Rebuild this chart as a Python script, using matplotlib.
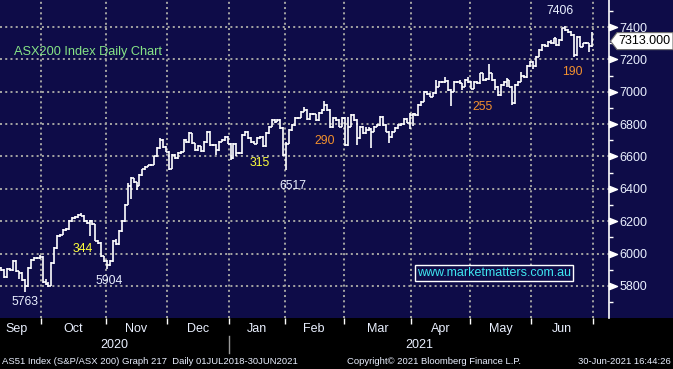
import numpy as np
import matplotlib
matplotlib.use("Agg")
import matplotlib.pyplot as plt
from matplotlib.collections import LineCollection
from matplotlib.patches import Rectangle, Polygon
from matplotlib.path import Path

plt.rcParams['font.family'] = ['Liberation Sans', 'DejaVu Sans']

# ---------------- data ----------------
months = ['Sep', 'Oct', 'Nov', 'Dec', 'Jan', 'Feb', 'Mar', 'Apr', 'May', 'Jun']
month_days = [14, 22, 21, 21, 19, 20, 23, 20, 21, 21]   # trading days shown per month
years = ['2020', '2021']
year_start_month = [0, 4]

opens = [
    # Sep
    5910, 5900, 5855, 5905, 5900, 5957, 5890, 5880, 5835, 5800, 5911, 5960, 5973, 5970,
    # Oct
    5980, 5825, 5815, 5800, 5940, 6033, 6110, 6117, 6147, 6150, 6199, 6220, 6225, 6240, 6235, 6200, 6190, 6200, 6180, 6080, 6067, 5983,
    # Nov
    5952, 5930, 5952, 6080, 6060, 6141, 6199, 6302, 6420, 6468, 6440, 6420, 6487, 6520, 6538, 6545, 6550, 6600, 6653, 6700, 6660,
    # Dec
    6630, 6525, 6610, 6590, 6620, 6630, 6700, 6690, 6744, 6682, 6641, 6662, 6631, 6690, 6754, 6672, 6672, 6640, 6692, 6703, 6723,
    # Jan
    6680, 6590, 6680, 6620, 6621, 6734, 6754, 6713, 6690, 6680, 6713, 6723, 6662, 6744, 6785, 6826, 6816, 6826, 6775,
    # Feb
    6610, 6680, 6764, 6795, 6837, 6840, 6877, 6890, 6830, 6865, 6860, 6826, 6867, 6888, 6920, 6888, 6780, 6837, 6826, 6785,
    # Mar
    6837, 6672, 6785, 6857, 6826, 6713, 6785, 6744, 6764, 6770, 6754, 6785, 6795, 6847, 6795, 6754, 6720, 6754, 6775, 6795, 6800, 6830, 6810,
    # Apr
    6857, 6860, 6857, 6919, 6939, 7001, 6985, 6970, 6991, 7032, 7062, 7060, 7065, 7011, 7001, 7062, 7060, 7052, 7032, 7073,
    # May
    7062, 7020, 7062, 7052, 7114, 7073, 7080, 7114, 7073, 7032, 6980, 7040, 7060, 7070, 7032, 6929, 7042, 7063, 7100, 7093, 7160,
    # Jun
    7186, 7160, 7217, 7258, 7289, 7284, 7309, 7300, 7330, 7289, 7320, 7392, 7380, 7370, 7350, 7228, 7340, 7279, 7300, 7299, 7280,
]
highs = [
    5915, 5905, 5910, 5912, 5962, 5960, 5895, 5885, 5840, 5915, 5965, 5980, 5978, 5992,
    5985, 5840, 5822, 5945, 6038, 6115, 6122, 6152, 6160, 6205, 6225, 6232, 6245, 6248, 6238, 6205, 6205, 6205, 6185, 6085, 6070, 5988,
    5958, 5958, 6085, 6088, 6146, 6205, 6308, 6437, 6472, 6470, 6445, 6492, 6525, 6542, 6550, 6555, 6605, 6658, 6715, 6705, 6665,
    6635, 6615, 6615, 6625, 6635, 6705, 6705, 6750, 6748, 6686, 6668, 6666, 6695, 6760, 6758, 6678, 6676, 6697, 6708, 6728, 6727,
    6685, 6685, 6685, 6626, 6740, 6760, 6758, 6718, 6695, 6718, 6728, 6728, 6750, 6790, 6832, 6830, 6830, 6830, 6780,
    6690, 6770, 6800, 6842, 6846, 6882, 6908, 6895, 6870, 6870, 6865, 6872, 6893, 6945, 6925, 6893, 6842, 6842, 6830, 6842,
    6842, 6847, 6862, 6862, 6831, 6790, 6790, 6785, 6785, 6775, 6790, 6800, 6852, 6852, 6800, 6760, 6760, 6780, 6800, 6805, 6836, 6836, 6870,
    6866, 6866, 6924, 6944, 7006, 7006, 6990, 6996, 7073, 7067, 7067, 7093, 7070, 7016, 7067, 7066, 7073, 7057, 7078, 7093,
    7067, 7067, 7067, 7119, 7119, 7086, 7172, 7119, 7078, 7037, 7045, 7065, 7083, 7075, 7037, 7047, 7068, 7124, 7105, 7165, 7191,
    7191, 7222, 7263, 7294, 7294, 7314, 7320, 7335, 7335, 7325, 7396, 7406, 7385, 7375, 7355, 7345, 7345, 7304, 7305, 7304, 7369,
]
lows = [
    5895, 5850, 5850, 5895, 5895, 5885, 5840, 5830, 5763, 5795, 5905, 5955, 5965, 5965,
    5820, 5805, 5796, 5798, 5935, 6028, 6105, 6112, 6140, 6145, 6195, 6215, 6220, 6230, 6195, 6185, 6110, 6175, 6075, 6060, 5978, 5945,
    5904, 5925, 5948, 6055, 6055, 6136, 6195, 6298, 6340, 6435, 6390, 6415, 6482, 6515, 6532, 6540, 6545, 6595, 6648, 6655, 6625,
    6518, 6520, 6585, 6585, 6615, 6625, 6685, 6685, 6677, 6636, 6636, 6626, 6626, 6685, 6667, 6666, 6610, 6635, 6688, 6698, 6675,
    6580, 6585, 6600, 6615, 6616, 6729, 6708, 6685, 6675, 6675, 6708, 6657, 6657, 6740, 6780, 6810, 6811, 6770, 6600,
    6517, 6675, 6760, 6790, 6832, 6835, 6872, 6825, 6825, 6855, 6820, 6820, 6862, 6883, 6883, 6775, 6775, 6820, 6780, 6780,
    6667, 6667, 6780, 6821, 6672, 6708, 6739, 6739, 6759, 6653, 6749, 6780, 6790, 6790, 6749, 6682, 6715, 6749, 6770, 6790, 6795, 6805, 6770,
    6790, 6852, 6852, 6914, 6934, 6980, 6965, 6965, 6986, 7027, 7055, 7055, 7006, 6909, 6996, 7055, 7047, 7011, 7027, 7057,
    7015, 7015, 7047, 7047, 7068, 7068, 7075, 7068, 7011, 6975, 6975, 7035, 7032, 7027, 6917, 6924, 7037, 7058, 7088, 7088, 7155,
    7140, 7155, 7212, 7253, 7279, 7279, 7295, 7295, 7284, 7284, 7315, 7375, 7365, 7345, 7216, 7223, 7274, 7274, 7294, 7248, 7275,
]
closes = [
    5900, 5855, 5905, 5900, 5957, 5890, 5880, 5835, 5800, 5911, 5960, 5973, 5970, 5980,
    5825, 5815, 5800, 5940, 6033, 6110, 6117, 6147, 6150, 6199, 6220, 6225, 6240, 6235, 6200, 6190, 6200, 6180, 6080, 6067, 5983, 5952,
    5930, 5952, 6080, 6060, 6141, 6199, 6302, 6420, 6468, 6440, 6420, 6487, 6520, 6538, 6545, 6550, 6600, 6653, 6700, 6660, 6630,
    6525, 6610, 6590, 6620, 6630, 6700, 6690, 6744, 6682, 6641, 6662, 6631, 6690, 6754, 6672, 6672, 6640, 6692, 6703, 6723, 6680,
    6590, 6680, 6620, 6621, 6734, 6754, 6713, 6690, 6680, 6713, 6723, 6662, 6744, 6785, 6826, 6816, 6826, 6775, 6610,
    6680, 6764, 6795, 6837, 6840, 6877, 6890, 6830, 6865, 6860, 6826, 6867, 6888, 6920, 6888, 6780, 6837, 6826, 6785, 6837,
    6672, 6785, 6857, 6826, 6713, 6785, 6744, 6764, 6770, 6754, 6785, 6795, 6847, 6795, 6754, 6720, 6754, 6775, 6795, 6800, 6830, 6810, 6857,
    6860, 6857, 6919, 6939, 7001, 6985, 6970, 6991, 7032, 7062, 7060, 7065, 7011, 7001, 7062, 7060, 7052, 7032, 7073, 7062,
    7020, 7062, 7052, 7114, 7073, 7080, 7114, 7073, 7032, 6980, 7040, 7060, 7070, 7032, 6929, 7042, 7063, 7100, 7093, 7160, 7186,
    7160, 7217, 7258, 7289, 7284, 7309, 7300, 7330, 7289, 7320, 7392, 7380, 7370, 7350, 7228, 7340, 7279, 7300, 7299, 7280, 7313,
]
last_price = 7313.0
y_major = [5800, 6000, 6200, 6400, 6600, 6800, 7000, 7200, 7400]
y_minor = [5700, 5900, 6100, 6300, 6500, 6700, 6900, 7100, 7300, 7500]

title = "ASX200 Index Daily Chart"
watermark = "www.marketmatters.com.au"
footer_left = "AS51 Index (S&P/ASX 200) Graph 217  Daily 01JUL2018-30JUN2021"
footer_mid = "Copyright\u00a9 2021 Bloomberg Finance L.P."
footer_right = "30-Jun-2021 16:44:26"

# ---------------- style ----------------
NAVY = '#0e0c48'
WHITE_BLUE = '#eaf0ff'
ORANGE = '#f3902e'
YELLOW = '#ffff3a'
GREEN = '#86e486'
CYAN = '#3fe6f0'
GRID = '#a0a0a0'

W, H = 673, 369
AX_W, AX_H = 609, 318
fig = plt.figure(figsize=(W / 100, H / 100), dpi=100, facecolor='black')
fig.patches.append(Rectangle((0, 1 - AX_H / H), 1, AX_H / H, transform=fig.transFigure,
                             facecolor=NAVY, edgecolor='none', zorder=-10))
ax = fig.add_axes([0, 1 - AX_H / H, AX_W / W, AX_H / H])
ax.set_facecolor(NAVY)

n = len(closes)
xs = np.arange(n)
ax.set_xlim(-0.5, 206.9)
ax.set_ylim(5602, 7567)

# OHLC bars
segs = []
for i in range(n):
    segs.append([(xs[i], lows[i]), (xs[i], highs[i])])
    segs.append([(xs[i] - 0.5, opens[i]), (xs[i], opens[i])])
    segs.append([(xs[i], closes[i]), (xs[i] + 0.5, closes[i])])
ax.add_collection(LineCollection(segs, colors='white', linewidths=1.2, capstyle='butt', zorder=3))

# month boundaries
starts = np.concatenate([[0], np.cumsum(month_days)[:-1]])
bounds = np.cumsum(month_days) - 0.5

# spines
for s in ['top', 'left', 'bottom']:
    ax.spines[s].set_visible(False)
ax.spines['right'].set_color('white')
ax.spines['right'].set_linewidth(1.2)

# y axis
ax.yaxis.tick_right()
ax.set_yticks(y_major)
ax.set_yticklabels([str(v) for v in y_major])
ax.set_yticks(y_minor, minor=True)
ax.tick_params(axis='y', which='major', length=0, pad=7.3, labelsize=9, labelcolor=WHITE_BLUE)
ax.tick_params(axis='y', which='minor', length=3, width=1, color='white', direction='out')
tri = Path([(0, -0.4), (1, 0), (0, 0.4), (0, -0.4)],
           [Path.MOVETO, Path.LINETO, Path.LINETO, Path.CLOSEPOLY])
ax.plot(np.ones(len(y_major)), y_major, transform=ax.get_yaxis_transform(), linestyle='none',
        marker=tri, markersize=11.5, color='white', clip_on=False, zorder=5)

# x axis
ax.set_xticks(bounds)
ax.tick_params(axis='x', which='major', length=4, width=1, color='white', direction='out',
               labelbottom=False)

# grid
ax.grid(True, which='major', axis='both', color=GRID, linestyle=(0, (1.0, 1.6)), linewidth=1.45)
ax.set_axisbelow(True)

# month labels
xt = ax.get_xaxis_transform()
for k, m in enumerate(months):
    if k == 0:
        ax.text(5 / AX_W, -11 / AX_H, m, transform=ax.transAxes, ha='left', va='center',
                fontsize=9, color=WHITE_BLUE)
    else:
        c = starts[k] + (month_days[k] - 1) / 2
        ax.text(c, -11 / AX_H, m, transform=xt, ha='center', va='center', fontsize=9, color=WHITE_BLUE)

# year labels
year_edges = [-0.5, bounds[year_start_month[1] - 1], ax.get_xlim()[1]]
for k, yname in enumerate(years):
    c = (year_edges[k] + year_edges[k + 1]) / 2
    ax.text(c, -27 / AX_H, yname, transform=xt, ha='center', va='center', fontsize=9, color=WHITE_BLUE)
ax.plot([year_edges[1], year_edges[1]], [-18 / AX_H, -35 / AX_H], transform=xt, color='#9a9a9a',
        linewidth=1, clip_on=False)

# title
ax.text(14 / AX_W, 1 - 52.5 / AX_H, title, transform=ax.transAxes, ha='left', va='center',
        fontsize=9.2, color=GREEN)

# annotations (index, value)
notes = [
    ("7406", 190.2, 7499, WHITE_BLUE),
    ("190", 194.3, 7122, ORANGE),
    ("255", 164.0, 6906, ORANGE),
    ("290", 110.0, 6696, ORANGE),
    ("315", 87.9, 6560, YELLOW),
    ("6517", 99.1, 6418, WHITE_BLUE),
    ("344", 27.8, 6028, YELLOW),
    ("5904", 36.8, 5831, WHITE_BLUE),
    ("5763", 8.0, 5701, WHITE_BLUE),
]
for t, xi, yv, col in notes:
    ax.text(xi, yv, t, ha='center', va='center', fontsize=8.8, color=col, zorder=6)

# watermark box
ax.text(167.9, 5883, watermark, ha='center', va='center', fontsize=9, color=CYAN, zorder=6,
        bbox=dict(boxstyle='square,pad=0.16', facecolor=NAVY, edgecolor='white', linewidth=1.0))

# last price tag
yd = ax.transData.transform((0, last_price))[1]
fy = yd / fig.bbox.height
hh = 8.5 / H
tip_x = 610.5 / W
box_l = 617 / W
tag = Polygon([(tip_x, fy), (box_l, fy + hh), (1.0, fy + hh), (1.0, fy - hh), (box_l, fy - hh)],
              closed=True, transform=fig.transFigure, facecolor='white', edgecolor='#707070',
              linewidth=0.8, zorder=10)
fig.patches.append(tag)
fig.text(618.5 / W, fy, f"{last_price:.3f}", ha='left', va='center', fontsize=9, color='black', zorder=11)

# footer
fy_f = 1 - 362 / H
fig.text(2 / W, fy_f, footer_left, ha='left', va='center', fontsize=6.8, color=WHITE_BLUE)
fig.text(347 / W, fy_f, footer_mid, ha='left', va='center', fontsize=6.8, color=WHITE_BLUE)
fig.text(671 / W, fy_f, footer_right, ha='right', va='center', fontsize=6.8, color=WHITE_BLUE)

fig.savefig("out.png", dpi=100, facecolor='black')
